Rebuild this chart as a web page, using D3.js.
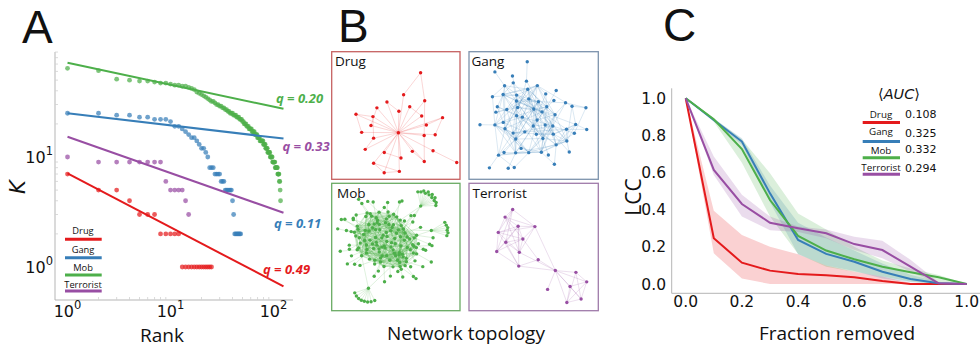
<!DOCTYPE html>
<html><head><meta charset="utf-8">
<script src="https://cdn.jsdelivr.net/npm/d3@7"></script>
<style>
html,body{margin:0;padding:0;background:#fff;}
svg{display:block;}
text{font-family:"Open Sans",sans-serif;fill:#111;}
.tick{font-family:"DejaVu Sans",sans-serif;}
</style></head><body>
<svg id="fig" width="980" height="352"></svg>
<script>
// ---------- shared ----------
const groups = ["Drug", "Gang", "Mob", "Terrorist"];
const colors = ["#e41a1c", "#377eb8", "#4daf4a", "#984ea3"];
const boxColors = ["#c66262", "#7d93ad", "#6aab64", "#9f7aa9"];

// ---------- panel A: degree K vs rank ----------
const drugK = [7,5,5,4,3,3,3,2,2,2,2,2,1,1,1,1,1,1,1,1,1,1,1,1,1];
const gangK = [25,25,24,24,23,23,22,22,22,21,19,19,18,17,16,15,15,14,13,12,12,11,10,8,8,8,7,7,7,7,6,6,6,5,5,5,5,5,5,4,3,2,2,2,2,2,2,2];
const mobK = [64,61,51,50,49,49,48,47,47,46,45,45,44,44,43,42,41,39,38,37,36,35,34,33,32,32,31,30,30,29,29,28,28,27,27,26,26,25,25,25,24,24,24,23,23,23,22,22,22,21,21,20,20,20,19,19,19,18,18,18,18,17,17,17,17,16,16,16,16,15,15,15,15,14,14,14,14,14,14,13,13,13,13,12,12,12,12,11,11,11,11,11,10,10,10,10,10,9,9,9,9,9,9,8,8,8,8,8,8,7,7,7,7,6,6,5,4];
const terrK = [10,9,9,9,9,9,9,9,6,5,5,5,5,4,3];
const degreeSeries = [drugK, gangK, mobK, terrK];
// power-law fits K = K1 * rank^(-q)
const fitQ = [0.49, 0.11, 0.20, 0.33];
const fitK1 = [7.1, 25, 72, 15.3];
const fitRankMax = 125;
// q labels (text and colour as printed next to the line ends)
const qLabelText = ["q = 0.49", "q = 0.11", "q = 0.20", "q = 0.33"];
const qLabelColor = [colors[0], colors[1], colors[2], colors[3]];
const xTicksA = [1, 10, 100];
const yTicksA = [1, 10];

// ---------- panel C: robustness ----------
const fracRemoved = [0,0.1,0.2,0.3,0.4,0.5,0.6,0.7,0.8,0.9,1.0];
const drugLcc = [1,0.246,0.115,0.072,0.054,0.047,0.036,0.016,0,0,0];
const drugHi  = [1,0.395,0.264,0.2,0.16,0.1,0.066,0.04,0.006,0,0];
const drugLo  = [1,0.165,0.03,0,0,0,0,0,0,0,0];
const gangLcc = [1,0.883,0.767,0.488,0.237,0.162,0.12,0.066,0.027,0.004,0];
const gangHi  = [1,0.89,0.785,0.53,0.33,0.25,0.18,0.11,0.05,0.012,0];
const gangLo  = [1,0.875,0.75,0.44,0.16,0.1,0.07,0.03,0.01,0,0];
const mobLcc  = [1,0.887,0.727,0.452,0.259,0.18,0.133,0.093,0.063,0.036,0];
const mobHi   = [1,0.892,0.78,0.596,0.38,0.294,0.2,0.126,0.084,0.048,0];
const mobLo   = [1,0.874,0.653,0.363,0.162,0.093,0.066,0.04,0.013,0,0];
const terrLcc = [1,0.614,0.431,0.33,0.3,0.273,0.215,0.183,0.093,0.004,0];
const terrHi  = [1,0.686,0.48,0.363,0.31,0.294,0.255,0.233,0.13,0.01,0];
const terrLo  = [1,0.587,0.363,0.29,0.28,0.246,0.183,0.138,0.066,0,0];
const lccMean = [drugLcc, gangLcc, mobLcc, terrLcc];
const lccHi = [drugHi, gangHi, mobHi, terrHi];
const lccLo = [drugLo, gangLo, mobLo, terrLo];
const aucText = ["0.108", "0.325", "0.332", "0.294"];
const xTicksC = [0, 0.2, 0.4, 0.6, 0.8, 1.0];
const yTicksC = [0, 0.2, 0.4, 0.6, 0.8, 1.0];

// ---------- panel B: network edge lists ----------
// "a>b" links every node in a with every node in b; a list alone is a clique.
const drugNet = {n: 28, spec: "0>1-21,23,24,25,27|21>22|4>5,6|5>6|7>8|1>3|9>10|10>11|12>13|13>14|14>15|11>16|17>18|19>23|23>24|25>26|26>9|27>12|2>20"};
const gangNet = {n: 62, spec: "0-6|4,7-11|2,9,12-16|5,13,17-20|8,18,21-24|1,14,22,25-27|3,20,26,28,29,0|10,16,24,29,6,27|11,12,19,25,28,7|30>0,5,9|31>2,14|32>7|33>11,19,25|34>21,23|35>17|36>26,28,1|37>24,8|38>13,18,20,3|39>6|40>15,16|41>22,27|42>29,10,4|43>12|44>9,21,25,2|45>18|46>1,3,6|47>23,24,28|48>14|49>19,5,0|50>26|51>8,11|52>16,20,29|53>27,13|54>7,12,17|55>15|56>10,22|57>4,25|58>57|59>30,38|60>42,47,56|61>33,44"};
const mobCore = "0-11|6-17|12-23|18-29|24-35|30-41|36-47|42-49,0-3|0,5,10,15,20,25,30,35,40,45|2,7,12,17,22,27,32,37,42,47|4,9,14,19,24,29,34,39,44,49";
const mobOuter = "50>0,17|51>1,23|52>2,31|53>3,44|54>4,12|55>5,38|56>6,27|57>7,49|58>8,19|59>9,33|60>10,41|61>11,26|62>12,35|63>13,46|64>14,21|65>15,30|66>16,43|67>17,8|68>18,29|69>19,37|70>20,2|71>21,48|72>22,11|73>23,34|74>24,5|75>25,40|76>26,14|77>27,47|78>28,3|79>29,16|80>30,42|81>31,9|82>32,20|83>33,45|84>34,1|85>35,24|86>36,13|87>37,6|88>38,28|89>39,15|90>40,22|91>41,4|92>42,32|93>43,10|94>44,25|95>45,18|96>46,36|97>47,7|98>48,39|99>49,0|100>0|101>3|102>6|103>9|104>12|105>15|106>18|107>21|108>24|109>27|110>30|111>33|112>36|113>39|114>42|115>45|116>48|117>1|118>4|119>7|120>10|121>13|122>16|123>19|124>22|125>25|126>28|127>31|128>34|129>37|130>40|131>43|132>46|133>49|134>2|135>5|136>8|137>11|138>14|139>17|140>20|141>23|142>26|143>29|144>32|145>35|146>38|147>41|148>44|149>47";
const mobFans = "150-161>162|162>10,22,34|163-170>171|171>17,31|172-177>178|178>5,25";
const mobNet = {n: 179, spec: mobCore + "|" + mobOuter + "|" + mobFans};
const terrNet = {n: 18, spec: "0>1,2,4,7,8|1>2,3,4,5,6|2>3,5,6,9|3>4,5,10,11|4>5,6,7,8,9|5>6,7,8,9|6>7,8,9,10|7>8,9|8>9,11|9>11|10>11|11>12-17|12>13,14,16|13>14,15,16|14>15,16|15>16"};
const networks = [drugNet, gangNet, mobNet, terrNet];

// ---------- drawing ----------
const svg = d3.select("#fig");
const axisGrey = "#b5b5b5";

function panelLetter(x, y, s) {
  svg.append("text").attr("x", x).attr("y", y).attr("font-size", 46)
    .style("font-family", "Liberation Sans, Arial, sans-serif").text(s);
}
panelLetter(22, 43, "A");
panelLetter(338, 42, "B");
panelLetter(663, 41, "C");

// ===== Panel A =====
const xA = d3.scaleLog().domain([0.756, 154.6]).range([55, 293]);
const yA = d3.scaleLog().domain([0.501, 90.1]).range([300, 52]);
const gA = svg.append("g");

gA.append("line").attr("x1", 55).attr("x2", 55).attr("y1", yA.range()[1]).attr("y2", yA.range()[0]).attr("stroke", axisGrey);
gA.append("line").attr("x1", 55).attr("x2", xA.range()[1]).attr("y1", 300).attr("y2", 300).attr("stroke", axisGrey);
const minorVals = [2,3,4,5,6,7,8,9,20,30,40,50,60,70,80,90];
minorVals.filter(v => v <= yA.domain()[1]).forEach(v => gA.append("line").attr("x1", 55).attr("x2", 58)
  .attr("y1", yA(v)).attr("y2", yA(v)).attr("stroke", "#d0d0d0").attr("stroke-width", 0.8));
minorVals.filter(v => v <= xA.domain()[1]).forEach(v => gA.append("line").attr("y1", 300).attr("y2", 297)
  .attr("x1", xA(v)).attr("x2", xA(v)).attr("stroke", "#d0d0d0").attr("stroke-width", 0.8));

xTicksA.forEach(v => {
  const t = gA.append("text").attr("class", "tick").attr("x", xA(v)).attr("y", 316.5)
    .attr("text-anchor", "middle").attr("font-size", 16).style("font-family", "DejaVu Sans");
  t.append("tspan").text("10");
  t.append("tspan").attr("dy", -8).attr("font-size", 11.5).text(String(Math.round(Math.log10(v))));
});
yTicksA.forEach(v => {
  const t = gA.append("text").attr("class", "tick").attr("x", 53).attr("y", yA(v) + 6.3)
    .attr("text-anchor", "end").attr("font-size", 16).style("font-family", "DejaVu Sans");
  t.append("tspan").text("10");
  t.append("tspan").attr("dy", -8).attr("font-size", 11.5).text(String(Math.round(Math.log10(v))));
});

degreeSeries.forEach((ks, gi) => {
  gA.append("g").selectAll("circle").data(ks).join("circle")
    .attr("cx", (d, i) => xA(i + 1)).attr("cy", d => yA(d)).attr("r", 2.4)
    .attr("fill", colors[gi]).attr("fill-opacity", 0.72);
});
const fitLine = d3.line().x(d => xA(d[0])).y(d => yA(d[1]));
fitQ.forEach((q, gi) => {
  const pts = [1, fitRankMax].map(r => [r, fitK1[gi] * Math.pow(r, -q)]);
  gA.append("path").attr("d", fitLine(pts)).attr("stroke", colors[gi]).attr("stroke-width", 2).attr("fill", "none");
});
const qLabelPos = [[263, 274], [274, 227.5], [276, 103], [282.5, 151]];
qLabelText.forEach((s, i) => {
  gA.append("text").attr("x", qLabelPos[i][0]).attr("y", qLabelPos[i][1])
    .attr("font-size", 13).attr("font-weight", "bold").attr("font-style", "italic")
    .style("fill", qLabelColor[i]).text(s);
});
gA.append("text").attr("transform", "translate(25,187) rotate(-90)").attr("text-anchor", "middle")
  .attr("font-size", 21).attr("font-style", "italic").style("font-family", "DejaVu Sans").text("K");
gA.append("text").attr("x", 162).attr("y", 341.5).attr("text-anchor", "middle").attr("font-size", 19).text("Rank");
const legA = [[233.5, 239.3], [252.5, 257.7], [271, 275], [288, 291]];
groups.forEach((gname, i) => {
  gA.append("text").attr("x", 83).attr("y", legA[i][0]).attr("text-anchor", "middle").attr("font-size", 9.3).text(gname);
  gA.append("line").attr("x1", 65).attr("x2", 101.7).attr("y1", legA[i][1]).attr("y2", legA[i][1])
    .attr("stroke", colors[i]).attr("stroke-width", 3);
});

// ===== Panel B =====
function ids(s) {
  const out = [];
  s.split(",").forEach(p => {
    if (p.includes("-")) { const [a, b] = p.split("-").map(Number); for (let k = a; k <= b; k++) out.push(k); }
    else out.push(Number(p));
  });
  return out;
}
function buildLinks(spec) {
  const seen = new Set(), links = [];
  const add = (a, b) => {
    if (a === b) return;
    const key = a < b ? a + "_" + b : b + "_" + a;
    if (seen.has(key)) return;
    seen.add(key); links.push({source: a, target: b});
  };
  spec.split("|").forEach(part => {
    if (part.includes(">")) {
      const [l, r] = part.split(">");
      const A = ids(l), B = ids(r);
      A.forEach(a => B.forEach(b => add(a, b)));
    } else {
      const C = ids(part);
      C.forEach((a, i) => C.slice(i + 1).forEach(b => add(a, b)));
    }
  });
  return links;
}
const boxes = [
  {x0: 331.7, y0: 51.7, x1: 460, y1: 179.3, area: [356, 456.7, 72.7, 172.7], tx: 335, ty: 66},
  {x0: 469, y0: 51.7, x1: 598.3, y1: 179.3, area: [480, 586.7, 61.7, 168.3], tx: 471.5, ty: 66},
  {x0: 331.7, y0: 183.3, x1: 460, y1: 310.7, area: [337.7, 448, 191, 302], tx: 337, ty: 198},
  {x0: 469, y0: 183.3, x1: 598.3, y1: 310.7, area: [496.7, 586.7, 208, 304], tx: 472.5, ty: 198}
];
// link length: base length, and a longer one for links that end at a leaf
const forceOpts = [
  {dist: 30, leaf: 30, charge: -60, opacity: 0.3},
  {dist: 25, leaf: 25, charge: -40, opacity: 0.3},
  {dist: 22, leaf: 55, charge: -45, opacity: 0.3},
  {dist: 30, leaf: 30, charge: -80, opacity: 0.3}
];
networks.forEach((net, gi) => {
  const b = boxes[gi], opt = forceOpts[gi];
  const g = svg.append("g");
  g.append("rect").attr("x", b.x0).attr("y", b.y0).attr("width", b.x1 - b.x0).attr("height", b.y1 - b.y0)
    .attr("fill", "none").attr("stroke", boxColors[gi]).attr("stroke-width", 1.3);
  const nodes = d3.range(net.n).map(i => ({id: i}));
  const links = buildLinks(net.spec);
  const deg = new Array(net.n).fill(0);
  links.forEach(l => { deg[l.source]++; deg[l.target]++; });
  const sim = d3.forceSimulation(nodes)
    .force("link", d3.forceLink(links).id(d => d.id)
      .distance(l => (deg[l.source.id] === 1 || deg[l.target.id] === 1) ? opt.leaf : opt.dist))
    .force("charge", d3.forceManyBody().strength(opt.charge))
    .force("x", d3.forceX(0).strength(0.04))
    .force("y", d3.forceY(0).strength(0.04))
    .stop();
  for (let i = 0; i < 400; i++) sim.tick();
  // fit into the drawing area, limiting how far the aspect ratio may stretch
  const ex = d3.extent(nodes, d => d.x), ey = d3.extent(nodes, d => d.y);
  const wx = b.area[1] - b.area[0], wy = b.area[3] - b.area[2];
  let kx = wx / (ex[1] - ex[0]), ky = wy / (ey[1] - ey[0]);
  const kmin = Math.min(kx, ky);
  kx = Math.min(kx, kmin * 1.25); ky = Math.min(ky, kmin * 1.25);
  const cx = (b.area[0] + b.area[1]) / 2, cy = (b.area[2] + b.area[3]) / 2;
  const mx = (ex[0] + ex[1]) / 2, my = (ey[0] + ey[1]) / 2;
  const sx = d3.scaleLinear().domain([mx, mx + 1]).range([cx, cx + kx]);
  const sy = d3.scaleLinear().domain([my, my + 1]).range([cy, cy + ky]);
  g.append("g").selectAll("line").data(links).join("line")
    .attr("x1", d => sx(d.source.x)).attr("y1", d => sy(d.source.y))
    .attr("x2", d => sx(d.target.x)).attr("y2", d => sy(d.target.y))
    .attr("stroke", colors[gi]).attr("stroke-opacity", opt.opacity).attr("stroke-width", 0.6);
  g.append("g").selectAll("circle").data(nodes).join("circle")
    .attr("cx", d => sx(d.x)).attr("cy", d => sy(d.y)).attr("r", 1.7).attr("fill", colors[gi]);
  g.append("text").attr("x", b.tx).attr("y", b.ty).attr("font-size", 13.5).text(groups[gi]);
});
svg.append("text").attr("x", 466).attr("y", 340).attr("text-anchor", "middle").attr("font-size", 19).text("Network topology");

// ===== Panel C =====
const xC = d3.scaleLinear().domain([0, 1]).range([685.7, 966.7]);
const yC = d3.scaleLinear().domain([0, 1]).range([284, 98.3]);
const gC = svg.append("g");
gC.append("line").attr("x1", 671.7).attr("x2", 671.7).attr("y1", 88.3).attr("y2", 293.3).attr("stroke", axisGrey);
gC.append("line").attr("x1", 671.7).attr("x2", 980).attr("y1", 293.3).attr("y2", 293.3).attr("stroke", axisGrey);
xTicksC.forEach(v => gC.append("text").attr("class", "tick").attr("x", xC(v)).attr("y", 306.7)
  .attr("text-anchor", "middle").attr("font-size", 15.5).style("font-family", "DejaVu Sans").text(v.toFixed(1)));
yTicksC.forEach(v => gC.append("text").attr("class", "tick").attr("x", 666).attr("y", yC(v) + 5.6)
  .attr("text-anchor", "end").attr("font-size", 15.5).style("font-family", "DejaVu Sans").text(v.toFixed(1)));

const area = d3.area().x((d, i) => xC(fracRemoved[i])).y0(d => yC(d[0])).y1(d => yC(d[1]));
const line = d3.line().x((d, i) => xC(fracRemoved[i])).y(d => yC(d));
groups.forEach((gname, gi) => {
  const band = fracRemoved.map((f, i) => [lccLo[gi][i], lccHi[gi][i]]);
  gC.append("path").attr("d", area(band)).attr("fill", colors[gi]).attr("fill-opacity", 0.2);
});
groups.forEach((gname, gi) => {
  gC.append("path").attr("d", line(lccMean[gi])).attr("fill", "none").attr("stroke", colors[gi]).attr("stroke-width", 2);
});
gC.append("text").attr("transform", "translate(641,197) rotate(-90)").attr("text-anchor", "middle").attr("font-size", 21).text("LCC");
gC.append("text").attr("x", 837).attr("y", 340).attr("text-anchor", "middle").attr("font-size", 19).text("Fraction removed");

const aucT = gC.append("text").attr("x", 899).attr("y", 98.5).attr("text-anchor", "middle").attr("font-size", 14.5).style("font-family", "DejaVu Sans");
aucT.append("tspan").text("\u27E8");
aucT.append("tspan").attr("font-style", "italic").text("AUC");
aucT.append("tspan").text("\u27E9");
const legC = [[118.3, 122.5, 117.7], [135, 141.5, 137.3], [154, 157.7, 153.3], [170.7, 174.2, 172]];
groups.forEach((gname, i) => {
  gC.append("text").attr("x", 881).attr("y", legC[i][0]).attr("text-anchor", "middle").attr("font-size", 9.8).text(gname);
  gC.append("line").attr("x1", 862.7).attr("x2", 900).attr("y1", legC[i][1]).attr("y2", legC[i][1])
    .attr("stroke", colors[i]).attr("stroke-width", 3);
  gC.append("text").attr("x", 905).attr("y", legC[i][2]).attr("font-size", 11).style("font-family", "DejaVu Sans").text(aucText[i]);
});
</script>
</body></html>
